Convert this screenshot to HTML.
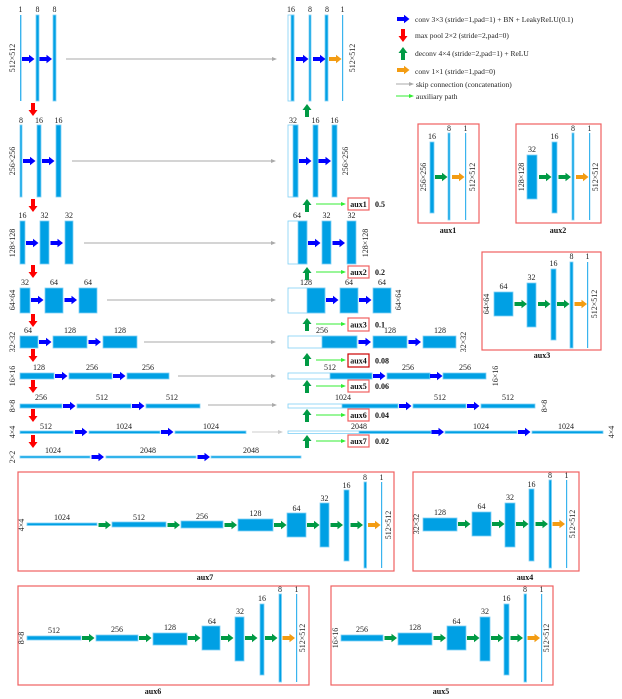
<!DOCTYPE html>
<html><head><meta charset="utf-8"><style>
html,body{margin:0;padding:0;background:#fff}
svg{display:block;font-family:"Liberation Serif",serif}
.t{font-size:8px;fill:#222;text-anchor:middle}
.b{fill:#00a0e4;stroke:#7fd0f5;stroke-width:.8}
.l{fill:#fff;stroke:#7fd0f5;stroke-width:.8}
.th{fill:#3ab4ee}
.lg{font-size:7.5px;fill:#222}
.ab{font-size:8px;font-weight:bold;fill:#111;text-anchor:middle}
.bx{fill:none;stroke:#f06060;stroke-width:1.2}
.sk{stroke:#aaa;stroke-width:1}
.gl{stroke:#33ee33;stroke-width:1}
</style></head><body>
<svg width="622" height="699" viewBox="0 0 622 699" xmlns="http://www.w3.org/2000/svg">
<defs>
<path id="ar" d="M0,-2H7V-4.2L12.5,0L7,4.2V2H0Z"/>
<path id="ad" d="M-2,0V7H-4.5L0,13L4.5,7H2V0Z"/>
<path id="au" d="M-2,0V-7H-4.5L0,-13L4.5,-7H2V0Z"/>
<path id="sh" d="M-5,-2L0,0L-5,2Z"/>
</defs>

<!-- ENCODER -->
<g>
<rect class="th" x="20" y="15" width="1.4" height="86"/>
<rect class="b" x="36" y="15" width="3" height="86"/>
<rect class="b" x="53" y="15" width="3" height="86"/>
<text class="t" x="20.5" y="12">1</text><text class="t" x="37.5" y="12">8</text><text class="t" x="54.5" y="12">8</text>
<text class="t" transform="translate(15,58) rotate(-90)">512×512</text>
<use href="#ar" x="22" y="59" fill="#0000ff"/><use href="#ar" x="39.5" y="59" fill="#0000ff"/>
<line class="sk" x1="66" y1="59" x2="276" y2="59"/><use href="#sh" x="277" y="59" fill="#aaa"/>

<rect class="b" x="20" y="125" width="2" height="72"/>
<rect class="b" x="37" y="125" width="4" height="72"/>
<rect class="b" x="56" y="125" width="5" height="72"/>
<text class="t" x="21" y="123">8</text><text class="t" x="39" y="123">16</text><text class="t" x="58.5" y="123">16</text>
<text class="t" transform="translate(15,161) rotate(-90)">256×256</text>
<use href="#ar" x="23" y="161" fill="#0000ff"/><use href="#ar" x="42" y="161" fill="#0000ff"/>
<line class="sk" x1="72" y1="161" x2="275" y2="161"/><use href="#sh" x="276" y="161" fill="#aaa"/>

<rect class="b" x="20" y="221" width="5" height="43"/>
<rect class="b" x="40" y="221" width="9" height="43"/>
<rect class="b" x="65" y="221" width="8" height="43"/>
<text class="t" x="22.5" y="218">16</text><text class="t" x="44.5" y="218">32</text><text class="t" x="69" y="218">32</text>
<text class="t" transform="translate(15,243) rotate(-90)">128×128</text>
<use href="#ar" x="26" y="243" fill="#0000ff"/><use href="#ar" x="50.5" y="243" fill="#0000ff"/>
<line class="sk" x1="84" y1="243" x2="275" y2="243"/><use href="#sh" x="276" y="243" fill="#aaa"/>

<rect class="b" x="20" y="288" width="10" height="25"/>
<rect class="b" x="45" y="288" width="18" height="25"/>
<rect class="b" x="79" y="288" width="18" height="25"/>
<text class="t" x="25" y="285">32</text><text class="t" x="54" y="285">64</text><text class="t" x="88" y="285">64</text>
<text class="t" transform="translate(15,300) rotate(-90)">64×64</text>
<use href="#ar" x="31" y="300" fill="#0000ff"/><use href="#ar" x="64.5" y="300" fill="#0000ff"/>
<line class="sk" x1="107" y1="300" x2="275" y2="300"/><use href="#sh" x="276" y="300" fill="#aaa"/>

<rect class="b" x="20" y="336" width="18" height="12"/>
<rect class="b" x="53" y="336" width="34" height="12"/>
<rect class="b" x="103" y="336" width="34" height="12"/>
<text class="t" x="28" y="333">64</text><text class="t" x="70" y="333">128</text><text class="t" x="120" y="333">128</text>
<text class="t" transform="translate(15,342) rotate(-90)">32×32</text>
<use href="#ar" x="39" y="342" fill="#0000ff"/><use href="#ar" x="88.5" y="342" fill="#0000ff"/>
<line class="sk" x1="144" y1="342" x2="275" y2="342"/><use href="#sh" x="276" y="342" fill="#aaa"/>

<rect class="b" x="20" y="373" width="34" height="6"/>
<rect class="b" x="69" y="373" width="43" height="6"/>
<rect class="b" x="127" y="373" width="42" height="6"/>
<text class="t" x="39" y="370">128</text><text class="t" x="92" y="370">256</text><text class="t" x="148" y="370">256</text>
<text class="t" transform="translate(15,376) rotate(-90)">16×16</text>
<use href="#ar" x="55" y="376" fill="#0000ff"/><use href="#ar" x="113" y="376" fill="#0000ff"/>
<line class="sk" x1="178" y1="376" x2="275" y2="376"/><use href="#sh" x="276" y="376" fill="#aaa"/>

<rect class="b" x="20" y="404" width="42" height="4"/>
<rect class="b" x="77" y="404" width="54" height="4"/>
<rect class="b" x="146" y="404" width="54" height="4"/>
<text class="t" x="41" y="400">256</text><text class="t" x="102" y="400">512</text><text class="t" x="172" y="400">512</text>
<text class="t" transform="translate(15,406) rotate(-90)">8×8</text>
<use href="#ar" x="63" y="406" fill="#0000ff"/><use href="#ar" x="132" y="406" fill="#0000ff"/>
<line class="sk" x1="208" y1="405" x2="275" y2="405"/><use href="#sh" x="277" y="405" fill="#aaa"/>

<rect class="b" x="20" y="431" width="53" height="2.5"/>
<rect class="b" x="89" y="431" width="71" height="2.5"/>
<rect class="b" x="175" y="431" width="71" height="2.5"/>
<text class="t" x="46" y="429">512</text><text class="t" x="124" y="429">1024</text><text class="t" x="211" y="429">1024</text>
<text class="t" transform="translate(15,432) rotate(-90)">4×4</text>
<use href="#ar" x="75" y="432" fill="#0000ff"/><use href="#ar" x="161" y="432" fill="#0000ff"/>
<line x1="252" y1="432" x2="281" y2="432" stroke="#ccc"/><use href="#sh" x="283" y="432" fill="#ccc"/>

<rect class="b" x="20" y="456" width="70" height="2"/>
<rect class="b" x="106" y="456" width="90" height="2"/>
<rect class="b" x="211" y="456" width="90" height="2"/>
<text class="t" x="53" y="453">1024</text><text class="t" x="148" y="453">2048</text><text class="t" x="251" y="453">2048</text>
<text class="t" transform="translate(15,457) rotate(-90)">2×2</text>
<use href="#ar" x="91.5" y="457" fill="#0000ff"/><use href="#ar" x="197.5" y="457" fill="#0000ff"/>

<g fill="#ff0000">
<use href="#ad" x="33" y="103"/><use href="#ad" x="33" y="199"/><use href="#ad" x="33" y="265"/>
<use href="#ad" x="33" y="314"/><use href="#ad" x="33" y="349"/><use href="#ad" x="33" y="380"/>
<use href="#ad" x="33" y="409"/><use href="#ad" x="33" y="435"/>
</g>
</g>

<!-- DECODER -->
<g>
<rect class="l" x="288" y="15" width="6" height="86"/><rect class="b" x="291" y="15" width="3" height="86"/>
<rect class="b" x="309" y="15" width="2" height="86"/>
<rect class="b" x="325" y="15" width="3" height="86"/>
<rect class="th" x="342" y="15" width="1.2" height="86"/>
<text class="t" x="291" y="12">16</text><text class="t" x="310" y="12">8</text><text class="t" x="327" y="12">8</text><text class="t" x="342.5" y="12">1</text>
<text class="t" transform="translate(355,58) rotate(-90)">512×512</text>
<use href="#ar" x="296" y="59" fill="#0000ff"/><use href="#ar" x="313" y="59" fill="#0000ff"/><use href="#ar" x="329" y="59" fill="#f39c12"/>

<rect class="l" x="288" y="125" width="10" height="72"/><rect class="b" x="293" y="125" width="5" height="72"/>
<rect class="b" x="313" y="125" width="5" height="72"/>
<rect class="b" x="332" y="125" width="5" height="72"/>
<text class="t" x="293" y="123">32</text><text class="t" x="315.5" y="123">16</text><text class="t" x="334.5" y="123">16</text>
<text class="t" transform="translate(348,161) rotate(-90)">256×256</text>
<use href="#ar" x="299" y="161" fill="#0000ff"/><use href="#ar" x="318.5" y="161" fill="#0000ff"/>

<rect class="l" x="288" y="221" width="19" height="43"/><rect class="b" x="298" y="221" width="9" height="43"/>
<rect class="b" x="322" y="221" width="9" height="43"/>
<rect class="b" x="347" y="221" width="9" height="43"/>
<text class="t" x="297" y="218">64</text><text class="t" x="326.5" y="218">32</text><text class="t" x="351.5" y="218">32</text>
<text class="t" transform="translate(368,243) rotate(-90)">128×128</text>
<use href="#ar" x="308" y="243" fill="#0000ff"/><use href="#ar" x="332.5" y="243" fill="#0000ff"/>

<rect class="l" x="288" y="288" width="37" height="25"/><rect class="b" x="307" y="288" width="18" height="25"/>
<rect class="b" x="340" y="288" width="18" height="25"/>
<rect class="b" x="373" y="288" width="18" height="25"/>
<text class="t" x="306" y="285">128</text><text class="t" x="349" y="285">64</text><text class="t" x="382" y="285">64</text>
<text class="t" transform="translate(401,300) rotate(-90)">64×64</text>
<use href="#ar" x="326" y="300" fill="#0000ff"/><use href="#ar" x="359" y="300" fill="#0000ff"/>

<rect class="l" x="288" y="336" width="69" height="12"/><rect class="b" x="322" y="336" width="35" height="12"/>
<rect class="b" x="373" y="336" width="34" height="12"/>
<rect class="b" x="423" y="336" width="33" height="12"/>
<text class="t" x="322" y="333">256</text><text class="t" x="390" y="333">128</text><text class="t" x="440" y="333">128</text>
<text class="t" transform="translate(466,342) rotate(-90)">32×32</text>
<use href="#ar" x="358.5" y="342" fill="#0000ff"/><use href="#ar" x="408.5" y="342" fill="#0000ff"/>

<rect class="l" x="288" y="373" width="84" height="6"/><rect class="b" x="330" y="373" width="42" height="6"/>
<rect class="b" x="387" y="373" width="43" height="6"/>
<rect class="b" x="443" y="373" width="43" height="6"/>
<text class="t" x="330" y="370">512</text><text class="t" x="408" y="370">256</text><text class="t" x="465" y="370">256</text>
<text class="t" transform="translate(498,376) rotate(-90)">16×16</text>
<use href="#ar" x="373" y="376" fill="#0000ff"/><use href="#ar" x="430" y="376" fill="#0000ff"/>

<rect class="l" x="288" y="404" width="110" height="4"/><rect class="b" x="342" y="404" width="56" height="4"/>
<rect class="b" x="413" y="404" width="53" height="4"/>
<rect class="b" x="481" y="404" width="54" height="4"/>
<text class="t" x="343" y="400">1024</text><text class="t" x="440" y="400">512</text><text class="t" x="508" y="400">512</text>
<text class="t" transform="translate(547,406) rotate(-90)">8×8</text>
<use href="#ar" x="399" y="406" fill="#0000ff"/><use href="#ar" x="467" y="406" fill="#0000ff"/>

<rect class="l" x="288" y="431" width="143" height="2.5"/><rect class="b" x="359" y="431" width="72" height="2.5"/>
<rect class="b" x="445" y="431" width="72" height="2.5"/>
<rect class="b" x="532" y="431" width="71" height="2.5"/>
<text class="t" x="359" y="429">2048</text><text class="t" x="481" y="429">1024</text><text class="t" x="566" y="429">1024</text>
<text class="t" transform="translate(614,432) rotate(-90)">4×4</text>
<use href="#ar" x="431.5" y="432" fill="#0000ff"/><use href="#ar" x="518" y="432" fill="#0000ff"/>

<g fill="#009a44">
<use href="#au" x="307" y="117"/><use href="#au" x="307" y="212"/><use href="#au" x="307" y="280"/>
<use href="#au" x="307" y="331"/><use href="#au" x="307" y="366"/><use href="#au" x="307" y="393"/>
<use href="#au" x="307" y="422"/><use href="#au" x="307" y="448"/>
</g>
<g>
<line class="gl" x1="316" y1="204" x2="343" y2="204"/><use href="#sh" x="346" y="204" fill="#33ee33"/>
<rect class="bx" x="348" y="198" width="21" height="12"/><text class="ab" x="358.5" y="207">aux1</text><text class="ab" x="380" y="207">0.5</text>
<line class="gl" x1="316" y1="272" x2="343" y2="272"/><use href="#sh" x="346" y="272" fill="#33ee33"/>
<rect class="bx" x="348" y="266" width="21" height="12"/><text class="ab" x="358.5" y="275">aux2</text><text class="ab" x="380" y="275">0.2</text>
<line class="gl" x1="316" y1="324" x2="343" y2="324"/><use href="#sh" x="346" y="324" fill="#33ee33"/>
<rect class="bx" x="348" y="318" width="21" height="13"/><text class="ab" x="358.5" y="327.5">aux3</text><text class="ab" x="380" y="327.5">0.1</text>
<line class="gl" x1="316" y1="360" x2="343" y2="360"/><use href="#sh" x="346" y="360" fill="#33ee33"/>
<rect x="348" y="354" width="21" height="13" fill="none" stroke="#c00" stroke-width="1.2"/><text class="ab" x="358.5" y="363.5">aux4</text><text class="ab" x="382" y="363.5">0.08</text>
<line class="gl" x1="316" y1="386" x2="343" y2="386"/><use href="#sh" x="346" y="386" fill="#33ee33"/>
<rect class="bx" x="348" y="380" width="21" height="12"/><text class="ab" x="358.5" y="389">aux5</text><text class="ab" x="382" y="389">0.06</text>
<line class="gl" x1="316" y1="415" x2="343" y2="415"/><use href="#sh" x="346" y="415" fill="#33ee33"/>
<rect class="bx" x="348" y="409" width="21" height="12"/><text class="ab" x="358.5" y="418">aux6</text><text class="ab" x="382" y="418">0.04</text>
<line class="gl" x1="316" y1="441" x2="343" y2="441"/><use href="#sh" x="346" y="441" fill="#33ee33"/>
<rect class="bx" x="348" y="435" width="21" height="12"/><text class="ab" x="358.5" y="444">aux7</text><text class="ab" x="382" y="444">0.02</text>
</g>
</g>

<!-- LEGEND -->
<g>
<use href="#ar" x="397" y="19" fill="#0000ff"/><text class="lg" x="415" y="22">conv 3×3 (stride=1,pad=1) + BN + LeakyReLU(0.1)</text>
<use href="#ad" x="403" y="29" fill="#ff0000"/><text class="lg" x="415" y="38">max pool 2×2 (stride=2,pad=0)</text>
<use href="#au" x="403" y="60" fill="#009a44"/><text class="lg" x="415" y="56">deconv 4×4 (stride=2,pad=1) + ReLU</text>
<use href="#ar" x="397" y="70" fill="#f39c12"/><text class="lg" x="415" y="74">conv 1×1 (stride=1,pad=0)</text>
<line class="sk" x1="396" y1="84" x2="410" y2="84"/><use href="#sh" x="414" y="84" fill="#aaa"/><text class="lg" x="416" y="87">skip connection (concatenation)</text>
<line class="gl" x1="396" y1="96" x2="410" y2="96"/><use href="#sh" x="414" y="96" fill="#33ee33"/><text class="lg" x="416" y="99">auxiliary path</text>
</g>

<!-- aux1 panel -->
<g>
<rect class="bx" x="418" y="124" width="61" height="99"/>
<text class="ab" x="448" y="233">aux1</text>
<rect class="b" x="430" y="142" width="4" height="71"/>
<rect class="b" x="448" y="133" width="2" height="87"/>
<rect class="th" x="465" y="133" width="1.2" height="87"/>
<text class="t" x="432" y="139">16</text><text class="t" x="449" y="131">8</text><text class="t" x="465.5" y="131">1</text>
<text class="t" transform="translate(426,177) rotate(-90)">256×256</text>
<text class="t" transform="translate(475,177) rotate(-90)">512×512</text>
<use href="#ar" x="435" y="177" fill="#009a44"/><use href="#ar" x="452" y="177" fill="#f39c12"/>
</g>
<!-- aux2 panel -->
<g>
<rect class="bx" x="516" y="124" width="85" height="99"/>
<text class="ab" x="558" y="233">aux2</text>
<rect class="b" x="527" y="155" width="10" height="44"/>
<rect class="b" x="552" y="142" width="5" height="71"/>
<rect class="b" x="572" y="133" width="2" height="87"/>
<rect class="th" x="589" y="133" width="1.2" height="87"/>
<text class="t" x="532" y="152">32</text><text class="t" x="554.5" y="139">16</text><text class="t" x="573" y="131">8</text><text class="t" x="589.5" y="131">1</text>
<text class="t" transform="translate(524,177) rotate(-90)">128×128</text>
<text class="t" transform="translate(598,177) rotate(-90)">512×512</text>
<use href="#ar" x="539" y="177" fill="#009a44"/><use href="#ar" x="558.5" y="177" fill="#009a44"/><use href="#ar" x="576" y="177" fill="#f39c12"/>
</g>
<!-- aux3 panel -->
<g>
<rect class="bx" x="482" y="252" width="119" height="98"/>
<text class="ab" x="542" y="358">aux3</text>
<rect class="b" x="494" y="292" width="19" height="24"/>
<rect class="b" x="527" y="283" width="9" height="44"/>
<rect class="b" x="551" y="269" width="5" height="71"/>
<rect class="b" x="570" y="262" width="3" height="86"/>
<rect class="th" x="587" y="262" width="1.2" height="86"/>
<text class="t" x="503.5" y="289">64</text><text class="t" x="531.5" y="280">32</text><text class="t" x="553.5" y="266">16</text><text class="t" x="571.5" y="259">8</text><text class="t" x="587.5" y="259">1</text>
<text class="t" transform="translate(489,304) rotate(-90)">64×64</text>
<text class="t" transform="translate(597,304) rotate(-90)">512×512</text>
<use href="#ar" x="514.5" y="304" fill="#009a44"/><use href="#ar" x="538" y="304" fill="#009a44"/><use href="#ar" x="557" y="304" fill="#009a44"/><use href="#ar" x="574.5" y="304" fill="#f39c12"/>
</g>
<!-- aux7 panel -->
<g>
<rect class="bx" x="18" y="472" width="376" height="99" stroke="#ee2222"/>
<text class="ab" x="205" y="580">aux7</text>
<rect class="b" x="27" y="523" width="70" height="2.5"/>
<rect class="b" x="112" y="522" width="54" height="5"/>
<rect class="b" x="181" y="521" width="42" height="7"/>
<rect class="b" x="238" y="519" width="35" height="12"/>
<rect class="b" x="287" y="513" width="19" height="24"/>
<rect class="b" x="320" y="503" width="9" height="44"/>
<rect class="b" x="344" y="490" width="5" height="71"/>
<rect class="b" x="364" y="482" width="2.5" height="86"/>
<rect class="th" x="381" y="482" width="1.2" height="86"/>
<text class="t" x="62" y="520">1024</text><text class="t" x="139" y="520">512</text><text class="t" x="202" y="519">256</text><text class="t" x="255.5" y="516">128</text><text class="t" x="296.5" y="511">64</text><text class="t" x="324.5" y="501">32</text><text class="t" x="346.5" y="488">16</text><text class="t" x="365" y="480">8</text><text class="t" x="381.5" y="480">1</text>
<text class="t" transform="translate(24,525) rotate(-90)">4×4</text>
<text class="t" transform="translate(391,525) rotate(-90)">512×512</text>
<g fill="#009a44"><use href="#ar" x="98.5" y="525"/><use href="#ar" x="167.5" y="525"/><use href="#ar" x="224.5" y="525"/><use href="#ar" x="274" y="525"/><use href="#ar" x="307" y="525"/><use href="#ar" x="330.5" y="525"/><use href="#ar" x="350.5" y="525"/></g>
<use href="#ar" x="368" y="525" fill="#f39c12"/>
</g>
<!-- aux4 panel -->
<g>
<rect class="bx" x="413" y="472" width="166" height="99"/>
<text class="ab" x="525" y="580">aux4</text>
<rect class="b" x="423" y="518" width="34" height="13"/>
<rect class="b" x="472" y="512" width="19" height="24"/>
<rect class="b" x="505" y="503" width="10" height="44"/>
<rect class="b" x="529" y="489" width="5" height="72"/>
<rect class="b" x="549" y="480" width="2.5" height="88"/>
<rect class="th" x="566" y="480" width="1.2" height="88"/>
<text class="t" x="440" y="515">128</text><text class="t" x="481.5" y="509">64</text><text class="t" x="510" y="500">32</text><text class="t" x="531.5" y="487">16</text><text class="t" x="550" y="478">8</text><text class="t" x="566.5" y="478">1</text>
<text class="t" transform="translate(419,524) rotate(-90)">32×32</text>
<text class="t" transform="translate(575,524) rotate(-90)">512×512</text>
<g fill="#009a44"><use href="#ar" x="458" y="524"/><use href="#ar" x="492" y="524"/><use href="#ar" x="516" y="524"/><use href="#ar" x="535.5" y="524"/></g>
<use href="#ar" x="552.5" y="524" fill="#f39c12"/>
</g>
<!-- aux6 panel -->
<g>
<rect class="bx" x="18" y="586" width="291" height="99"/>
<text class="ab" x="153" y="694">aux6</text>
<rect class="b" x="27" y="636" width="54" height="4"/>
<rect class="b" x="96" y="635" width="42" height="6"/>
<rect class="b" x="153" y="633" width="34" height="12"/>
<rect class="b" x="202" y="626" width="18" height="24"/>
<rect class="b" x="235" y="617" width="9" height="44"/>
<rect class="b" x="260" y="604" width="4" height="71"/>
<rect class="b" x="279" y="594" width="2.5" height="88"/>
<rect class="th" x="296" y="594" width="1.2" height="88"/>
<text class="t" x="54" y="633">512</text><text class="t" x="117" y="632">256</text><text class="t" x="170" y="630">128</text><text class="t" x="212" y="624">64</text><text class="t" x="240" y="614">32</text><text class="t" x="262" y="601">16</text><text class="t" x="280" y="592">8</text><text class="t" x="296.5" y="592">1</text>
<text class="t" transform="translate(24,638) rotate(-90)">8×8</text>
<text class="t" transform="translate(305,638) rotate(-90)">512×512</text>
<g fill="#009a44"><use href="#ar" x="82" y="638"/><use href="#ar" x="139" y="638"/><use href="#ar" x="188" y="638"/><use href="#ar" x="221" y="638"/><use href="#ar" x="245" y="638"/><use href="#ar" x="265" y="638"/></g>
<use href="#ar" x="282.5" y="638" fill="#f39c12"/>
</g>
<!-- aux5 panel -->
<g>
<rect class="bx" x="331" y="586" width="222" height="99"/>
<text class="ab" x="441" y="694">aux5</text>
<rect class="b" x="341" y="635" width="42" height="6"/>
<rect class="b" x="398" y="633" width="34" height="12"/>
<rect class="b" x="447" y="626" width="19" height="24"/>
<rect class="b" x="480" y="617" width="10" height="44"/>
<rect class="b" x="504" y="604" width="5" height="71"/>
<rect class="b" x="524" y="594" width="2.5" height="88"/>
<rect class="th" x="541" y="594" width="1.2" height="88"/>
<text class="t" x="362" y="632">256</text><text class="t" x="415" y="630">128</text><text class="t" x="456.5" y="624">64</text><text class="t" x="485" y="614">32</text><text class="t" x="506.5" y="601">16</text><text class="t" x="525" y="592">8</text><text class="t" x="541.5" y="592">1</text>
<text class="t" transform="translate(338,638) rotate(-90)">16×16</text>
<text class="t" transform="translate(549,638) rotate(-90)">512×512</text>
<g fill="#009a44"><use href="#ar" x="384.5" y="638"/><use href="#ar" x="433.5" y="638"/><use href="#ar" x="467" y="638"/><use href="#ar" x="491" y="638"/><use href="#ar" x="510.5" y="638"/></g>
<use href="#ar" x="527.5" y="638" fill="#f39c12"/>
</g>
</svg>
</body></html>
